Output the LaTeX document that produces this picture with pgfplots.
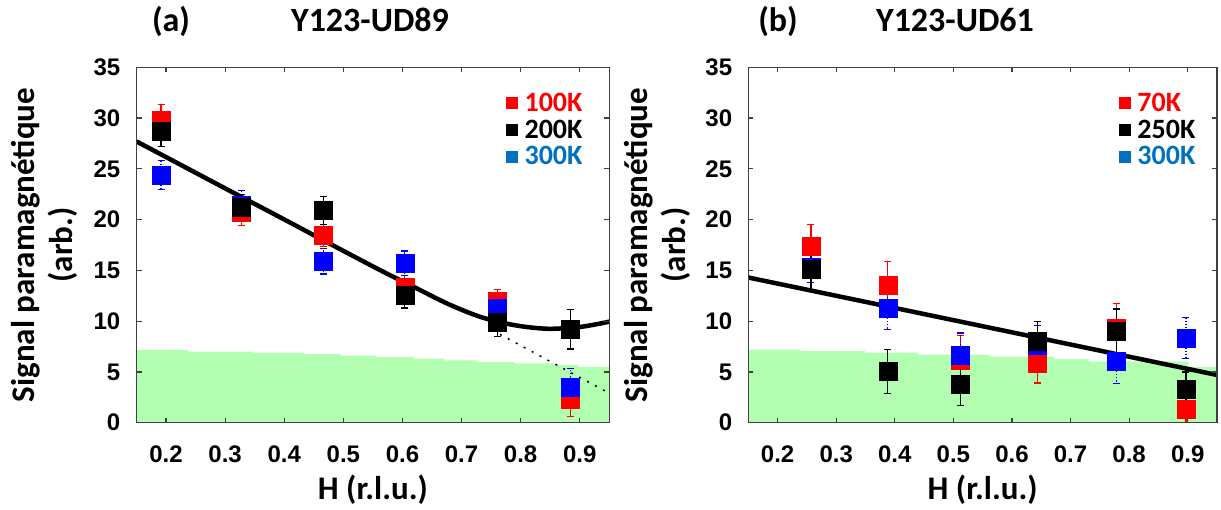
\documentclass[border=0pt]{standalone}
\usepackage{fontspec}
\setmainfont{Carlito}
\newfontfamily\tickfont{Liberation Sans}
\usepackage{pgfplots}
\usepackage{pgfplotstable}
\pgfplotsset{compat=1.18}
\definecolor{lgreen}{rgb}{0.7,1,0.7}
\definecolor{legblue}{RGB}{0,112,192}
\definecolor{axgray}{RGB}{64,64,64}

\pgfplotstableread{
x y e
0.1915 29.8 1.5
0.327 20.7 1.3
0.466 18.45 1.1
0.604 13.3 1.2
0.761 12.0 1.1
0.884 2.3 1.7
}\aRed
\pgfplotstableread{
x y e
0.1915 24.4 1.4
0.327 21.45 1.4
0.466 15.9 1.25
0.604 15.7 1.2
0.761 11.3 1.2
0.884 3.5 1.8
}\aBlue
\pgfplotstableread{
x y e
0.1915 28.7 1.5
0.327 21.2 1.3
0.466 20.9 1.35
0.604 12.6 1.3
0.761 9.9 1.4
0.884 9.2 1.95
}\aBlack
\pgfplotstableread{
x y e
0.257 17.35 2.2
0.388 13.57 2.3
0.512 6.2 2.4
0.643 5.9 2.0
0.778 9.33 2.4
0.897 1.35 1.35
}\bRed
\pgfplotstableread{
x y e
0.257 15.3 1.5
0.388 11.27 2.1
0.512 6.64 2.2
0.643 7.6 2.0
0.778 6.05 2.2
0.897 8.35 2.0
}\bBlue
\pgfplotstableread{
x y e
0.257 15.1 1.95
0.388 5.06 2.15
0.512 3.8 2.1
0.643 8.02 1.98
0.778 9.0 2.2
0.897 3.3 1.7
}\bBlack

\pgfplotsset{
  myaxis/.style={
    scale only axis, height=355.4pt,
    xmin=0.15, xmax=0.95, ymin=0, ymax=35,
    xtick={0.2,0.3,0.4,0.5,0.6,0.7,0.8,0.9},
    ytick={0,5,10,15,20,25,30,35},
    tick align=inside, tick pos=both, major tick length=5pt,
    axis line style={axgray, line width=1.5pt},
    tick style={axgray, line width=1.2pt},
    axis on top,
    /pgf/number format/assume math mode=true,
    ticklabel style={font=\tickfont\bfseries\fontsize{24}{24}\selectfont, inner sep=0pt},
    xticklabel style={/pgf/number format/fixed, /pgf/number format/precision=1, /pgf/number format/fixed zerofill, yshift=-23pt},
    yticklabel style={xshift=-16pt},
    xlabel={H (r.l.u.)},
    xlabel style={at={(rel axis cs:0.5,0)}, anchor=base, yshift=-77pt, font=\bfseries\fontsize{33}{38}\selectfont},
    ylabel={Signal paramagnétique\\(arb.)},
    ylabel style={align=center, anchor=center, font=\bfseries\fontsize{33}{38}\selectfont},
    legend style={draw=none, fill=none, font=\bfseries\fontsize{28}{28}\selectfont, row sep=3pt, anchor=north west,
      /tikz/every odd column/.append style={column sep=5pt}},
    legend cell align=left,
  },
  pt/.style={only marks, mark=square*, mark size=9pt, forget plot,
    error bars/y dir=both, error bars/y explicit,
    error bars/error bar style={line width=1.2pt},
    error bars/error mark options={rotate=90, mark size=3.5pt, line width=1.2pt}},
  lg/.style={only marks, mark=square*, mark size=5.5pt, #1},
}

\begin{document}
\begin{tikzpicture}
\useasboundingbox (0,0) rectangle (1221pt,509pt);
% ---------- (a)
\begin{axis}[myaxis, width=472.8pt, at={(136.5pt,86.3pt)}, anchor=south west,
  ylabel style={at={(axis description cs:-0.195,0.5)}},
  legend style={at={(rel axis cs:0.776,0.94)}}]
\addplot[fill=lgreen, draw=none, const plot, forget plot] coordinates {
(0.15,7.15) (0.237,7.0) (0.347,6.9) (0.434,6.75) (0.496,6.6) (0.555,6.45) (0.619,6.3)
(0.67,6.15) (0.726,6.0) (0.79,5.85) (0.855,5.7) (0.897,5.5) (0.95,5.5)} \closedcycle;
\addplot[black, line width=4.5pt, smooth, forget plot] coordinates {
(0.15,27.7) (0.224,25.42) (0.309,22.8) (0.394,20.2) (0.478,17.6) (0.563,15.0)
(0.62,13.35) (0.677,11.7) (0.733,10.4) (0.79,9.6) (0.846,9.25) (0.903,9.45) (0.95,9.95)};
\addplot[black, line width=1.5pt, dash pattern=on 2pt off 7pt, forget plot] coordinates {(0.765,8.7) (0.95,2.9)};
\addplot[pt, red] table[x=x, y=y, y error=e] {\aRed};
\addplot[pt, blue, error bars/error bar style={dotted, line width=1.2pt}] table[x=x, y=y, y error=e] {\aBlue};
\addplot[pt, black] table[x=x, y=y, y error=e] {\aBlack};
\addlegendimage{lg=red}
\addlegendimage{lg=black}
\addlegendimage{lg=legblue}
\legend{\textcolor{red}{100K}, \textcolor{black}{200K}, \textcolor{legblue}{300K}}
\end{axis}
% ---------- (b)
\begin{axis}[myaxis, width=468.7pt, at={(748.3pt,86.3pt)}, anchor=south west,
  ylabel style={at={(axis description cs:-0.194,0.5)}},
  legend style={at={(rel axis cs:0.785,0.94)}}]
\addplot[fill=lgreen, draw=none, const plot, forget plot] coordinates {
(0.15,7.2) (0.239,7.05) (0.349,6.9) (0.44,6.7) (0.562,6.5) (0.672,6.25) (0.731,6.05)
(0.901,5.5) (0.95,5.5)} \closedcycle;
\addplot[black, line width=4.5pt, forget plot] coordinates {(0.15,14.3) (0.95,4.7)};
\addplot[pt, red] table[x=x, y=y, y error=e] {\bRed};
\addplot[pt, blue, error bars/error bar style={dotted, line width=1.2pt}] table[x=x, y=y, y error=e] {\bBlue};
\addplot[pt, black] table[x=x, y=y, y error=e] {\bBlack};
\addlegendimage{lg=red}
\addlegendimage{lg=black}
\addlegendimage{lg=legblue}
\legend{\textcolor{red}{70K}, \textcolor{black}{250K}, \textcolor{legblue}{300K}}
\end{axis}
% titles
\node[font=\bfseries\fontsize{34}{40}\selectfont, anchor=base] at (171pt,477pt) {(a)};
\node[font=\bfseries\fontsize{34}{40}\selectfont, anchor=base] at (370pt,477pt) {Y123-UD89};
\node[font=\bfseries\fontsize{34}{40}\selectfont, anchor=base] at (778pt,477pt) {(b)};
\node[font=\bfseries\fontsize{34}{40}\selectfont, anchor=base] at (955pt,477pt) {Y123-UD61};
\end{tikzpicture}
\end{document}
